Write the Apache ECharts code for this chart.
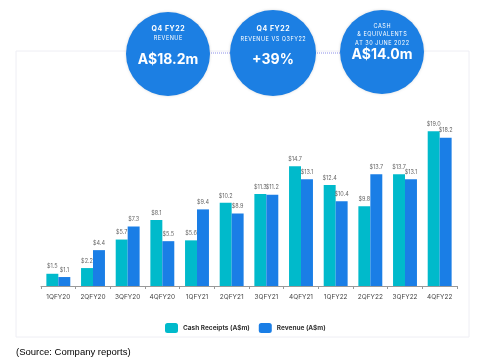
<!DOCTYPE html>
<html><head><meta charset="utf-8">
<script src="https://cdn.jsdelivr.net/npm/echarts@6/dist/echarts.min.js"></script>
<style>html,body{margin:0;padding:0;background:#fff}#c{width:487px;height:362px}</style>
</head><body><div id="c"></div>
<script>
var categories = ['1QFY20','2QFY20','3QFY20','4QFY20','1QFY21','2QFY21','3QFY21','4QFY21','1QFY22','2QFY22','3QFY22','4QFY22'];
var cashReceipts = [1.5, 2.2, 5.7, 8.1, 5.6, 10.2, 11.3, 14.7, 12.4, 9.8, 13.7, 19.0];
var revenue = [1.1, 4.4, 7.3, 5.5, 9.4, 8.9, 11.2, 13.1, 10.4, 13.7, 13.1, 18.2];
var seriesNames = ['Cash Receipts (A$m)', 'Revenue (A$m)'];

var chart = echarts.init(document.getElementById('c'), null, {renderer:'canvas'});
var F = 'Inter, "Open Sans", sans-serif';
var lbl = {show:true, position:'top', distance:4, fontSize:5.5, color:'#666', fontFamily:F,
  formatter:function(p){return '$'+p.value.toFixed(1);}};
var white = '#fff';
function sp(s, sep){ return s.split('').join(sep); }
function circle(cx, cy, r){
  return {type:'circle', shape:{cx:cx, cy:cy, r:r}, style:{fill:'#1C7FE3', shadowBlur:3, shadowColor:'rgba(0,0,0,0.15)'}, z:10};
}
function txt(x, y, s, size, weight){
  return {type:'text', x:x, y:y, z:11, style:{text:s, fill:white, font:(weight||'normal')+' '+size+'px '+F, align:'center', verticalAlign:'middle'}};
}
var H = '\u200A';
chart.setOption({
  animation:false,
  grid:{left:41, right:30, top:123, bottom:76},
  xAxis:{type:'category', data:categories,
    axisLine:{lineStyle:{color:'#999', width:1}},
    axisTick:{show:true, length:3, lineStyle:{color:'#999'}},
    axisLabel:{fontSize:6.5, color:'#444', margin:8, fontFamily:F}},
  yAxis:{type:'value', min:0, max:20, show:false, splitLine:{show:false}},
  legend:{left:160, top:318, itemWidth:13, itemHeight:10, itemGap:9,
    textStyle:{fontSize:6.5, fontWeight:'bold', color:'#333', fontFamily:F},
    data:seriesNames},
  series:[
    {name:seriesNames[0], type:'bar', data:cashReceipts, barGap:'0%', barCategoryGap:'31%',
      itemStyle:{color:'#00BACB'}, label:lbl},
    {name:seriesNames[1], type:'bar', data:revenue,
      itemStyle:{color:'#1A7EE6'}, label:lbl}
  ],
  graphic:[
    {type:'rect', shape:{x:16, y:51, width:453, height:286}, style:{fill:'#fff', stroke:'#eeeef4', lineWidth:1}, z:-10},
    {type:'line', shape:{x1:209, y1:53, x2:231, y2:53}, style:{stroke:'#8a8ee8', lineWidth:1, lineDash:[1,1]}, z:5},
    {type:'line', shape:{x1:315, y1:53, x2:340, y2:53}, style:{stroke:'#8a8ee8', lineWidth:1, lineDash:[1,1]}, z:5},
    circle(168, 54, 42),
    circle(273, 53, 43),
    circle(382, 52, 42),
    txt(168, 29, sp('Q4 FY22', H), 7, 'bold'),
    txt(168, 38, sp('REVENUE', H), 5.5, 'normal'),
    txt(168, 60, 'A$18.2m', 14, 'bold'),
    txt(273, 29, sp('Q4 FY22', H), 7, 'bold'),
    txt(273, 39, sp('REVENUE VS Q3FY22', H), 5.5, 'normal'),
    txt(273, 60, '+39%', 14, 'bold'),
    txt(382, 26, sp('CASH', H), 5.5, 'normal'),
    txt(382, 34, sp('& EQUIVALENTS', H), 5.5, 'normal'),
    txt(382, 43, sp('AT 30 JUNE 2022', H), 5.5, 'normal'),
    txt(382, 55, 'A$14.0m', 14, 'bold'),
    {type:'text', x:16, y:352, z:11, style:{text:'(Source: Company reports)', fill:'#000', font:'normal 9.5px "Liberation Sans", Arial, sans-serif', align:'left', verticalAlign:'middle'}}
  ]
});
</script></body></html>
